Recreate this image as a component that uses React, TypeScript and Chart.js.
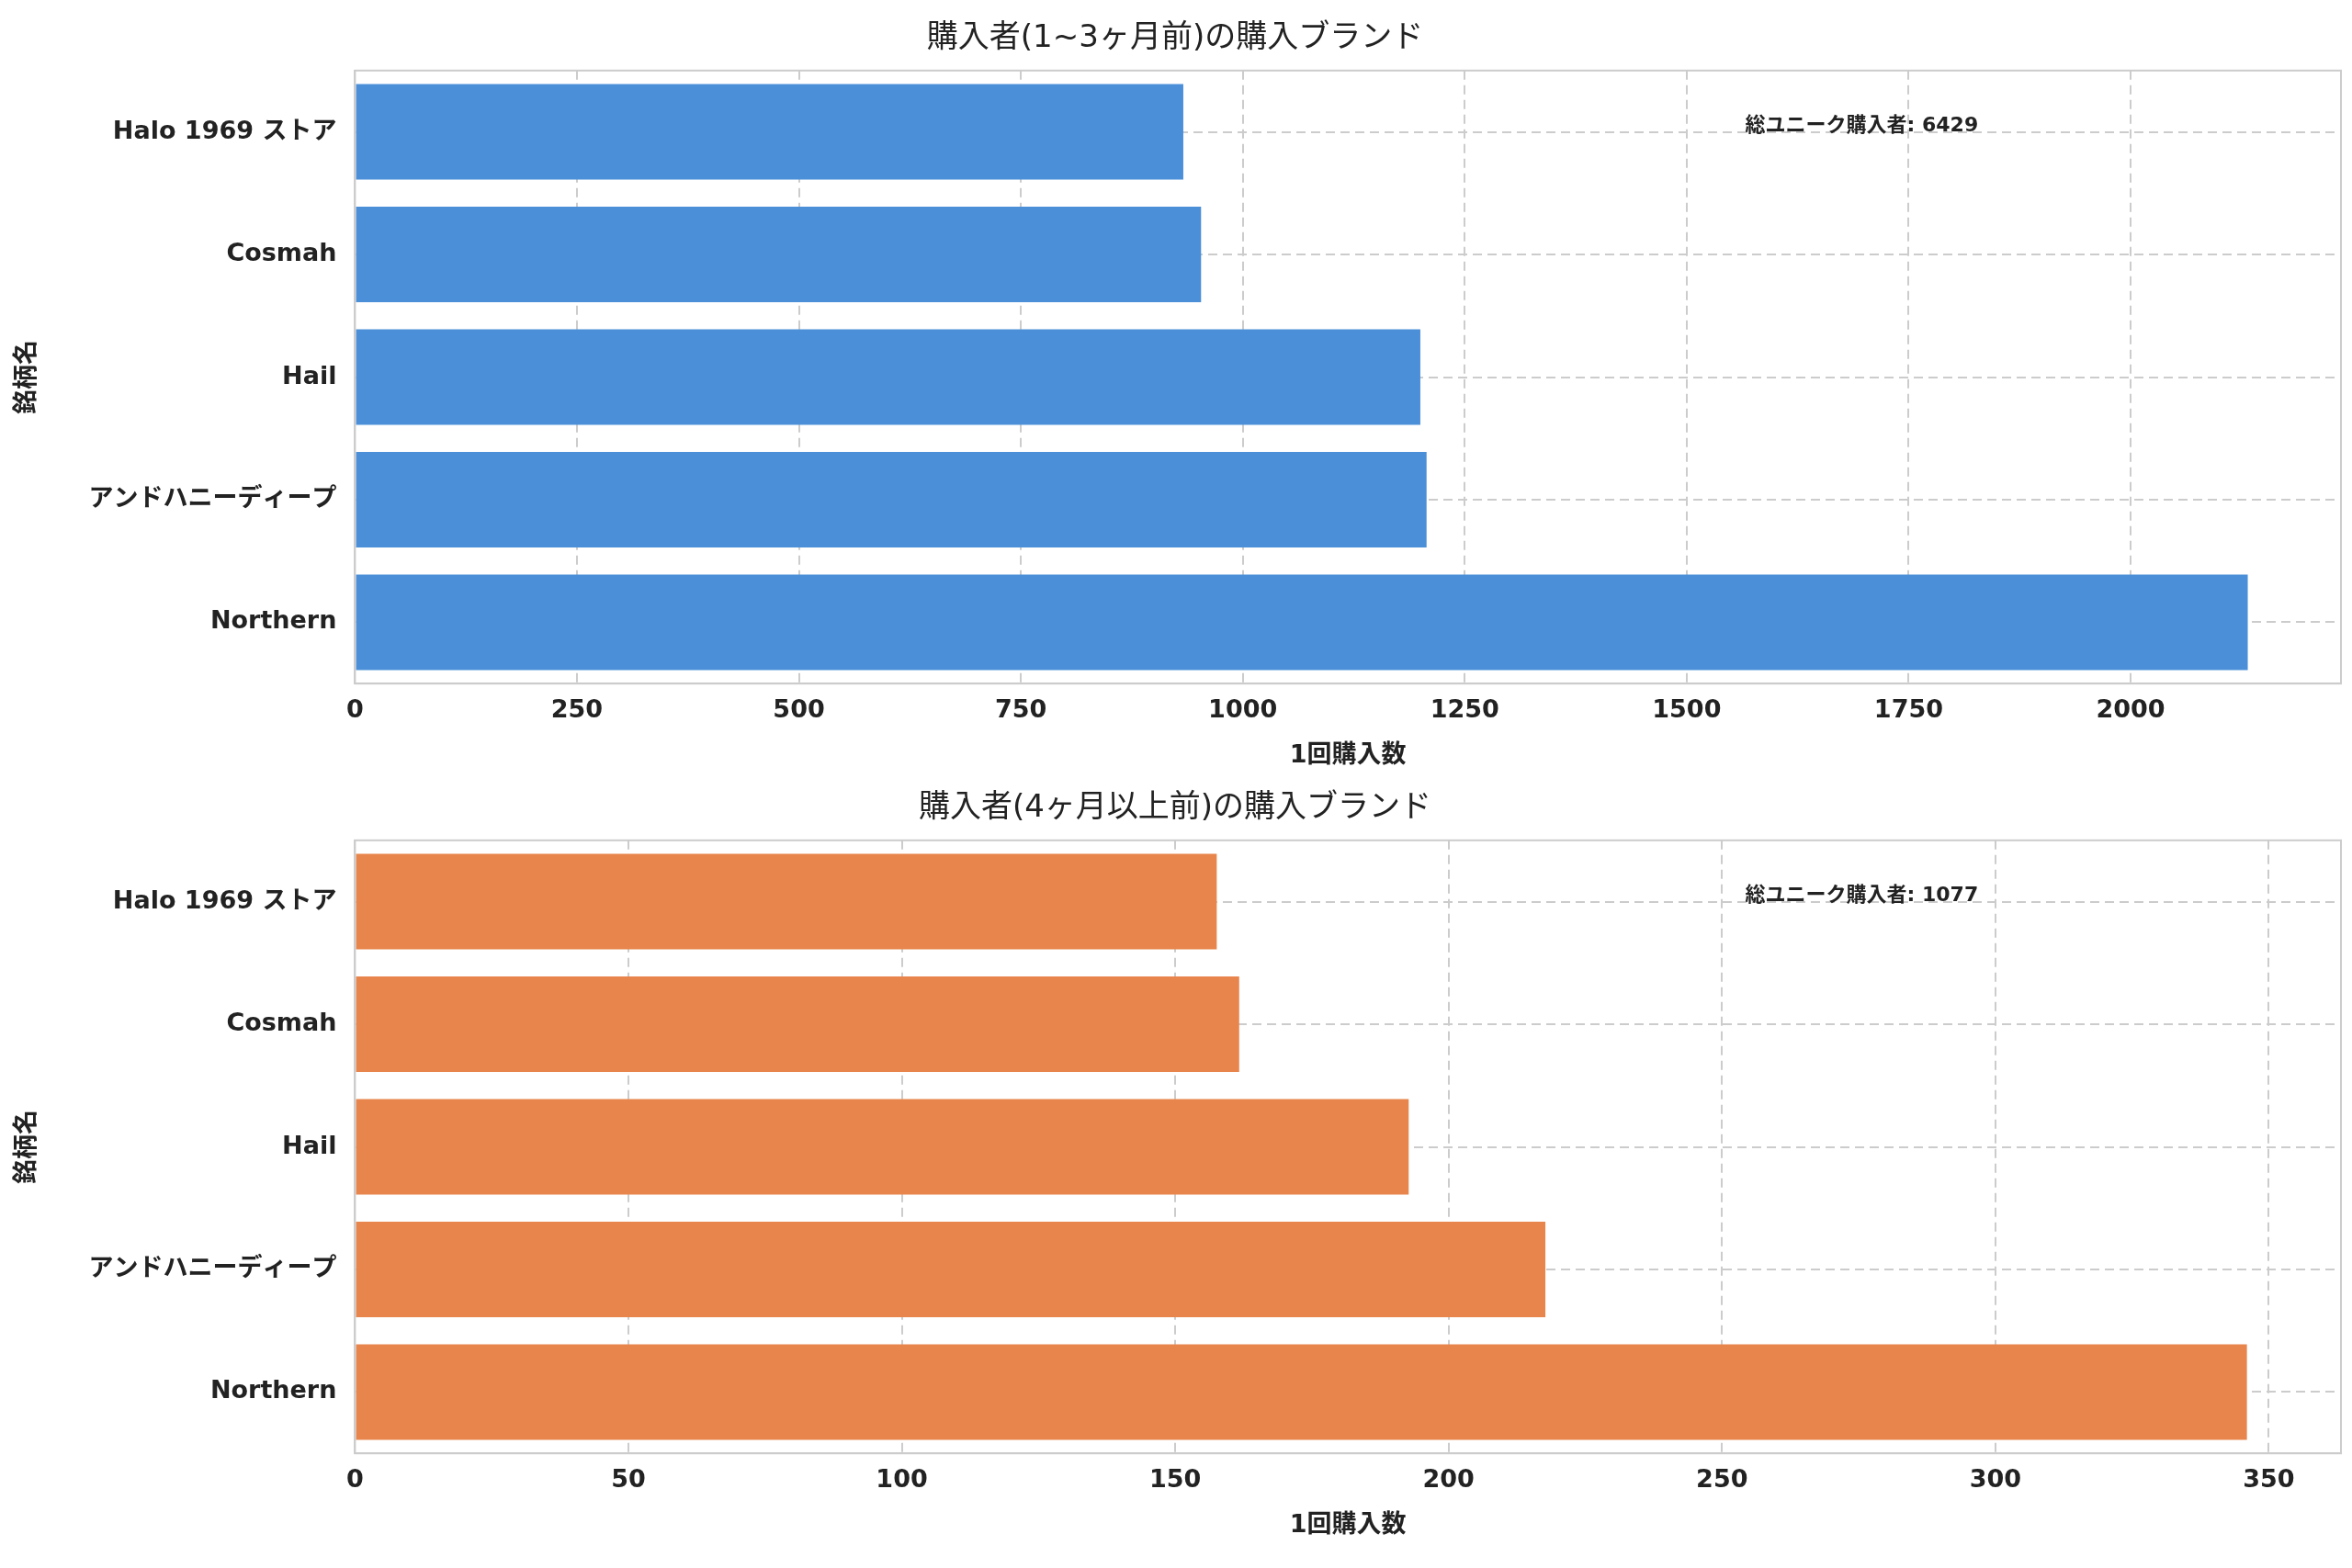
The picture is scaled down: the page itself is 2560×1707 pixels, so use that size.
import React, { useEffect, useRef } from "react";
import { Chart, registerables } from "chart.js";
Chart.register(...registerables);

const categories = ["Halo 1969 ストア", "Cosmah", "Hail", "アンドハニーディープ", "Northern"];
const recentValues = [933, 953, 1200, 1207, 2132];
const olderValues = [157.6, 161.7, 192.7, 217.7, 346];
const recentTicks = [0, 250, 500, 750, 1000, 1250, 1500, 1750, 2000];
const olderTicks = [0, 50, 100, 150, 200, 250, 300, 350];
const titles = ["購入者(1~3ヶ月前)の購入ブランド", "購入者(4ヶ月以上前)の購入ブランド"];
const totals = [6429, 1077];
const annotationLabel = "総ユニーク購入者";
const xLabel = "1回購入数";
const yLabel = "銘柄名";
const FONT = "'DejaVu Sans', 'Noto Sans CJK JP', sans-serif";

function Panel({ values, color, title, total, max, tickValues, top }: any) {
  const ref = useRef<HTMLCanvasElement>(null);
  useEffect(() => {
    const annot = {
      id: "annot",
      afterDraw(c: any) {
        const a = c.chartArea;
        const ctx = c.ctx;
        ctx.save();
        ctx.font = `bold 22px ${FONT}`;
        ctx.fillStyle = "#222";
        ctx.textAlign = "left";
        ctx.textBaseline = "middle";
        ctx.fillText(`${annotationLabel}: ${total}`, a.left + (a.right - a.left) * 0.7, a.top + 60);
        ctx.strokeStyle = "#ccc";
        ctx.lineWidth = 2;
        ctx.strokeRect(a.left, a.top, a.right - a.left, a.bottom - a.top);
        ctx.restore();
      },
    };
    const chart = new Chart(ref.current!, {
      type: "bar",
      data: {
        labels: categories,
        datasets: [{ data: values, backgroundColor: color, barPercentage: 0.78, categoryPercentage: 1 }],
      },
      plugins: [annot],
      options: {
        indexAxis: "y",
        animation: false,
        responsive: false,
        layout: { padding: { left: 10, right: 12, top: 0, bottom: 10 } },
        plugins: {
          legend: { display: false },
          tooltip: { enabled: false },
          title: { display: true, text: title, color: "#222", font: { family: FONT, size: 34, weight: "normal" }, padding: { top: 22, bottom: 14 } },
        },
        scales: {
          x: {
            min: 0,
            max,
            afterBuildTicks: (s: any) => { s.ticks = tickValues.map((v: number) => ({ value: v })); },
            border: { color: "#ccc", width: 2, dash: [10, 6] },
            grid: { color: "#ccc", lineWidth: 2, drawTicks: false },
            ticks: {
              padding: 14,
              color: "#222",
              font: { family: FONT, size: 27, weight: "bold" },
              callback: (v: any) => String(v),
            },
            title: { display: true, text: xLabel, color: "#222", font: { family: FONT, size: 27, weight: "bold" }, padding: { top: 2 } },
          },
          y: {
            border: { color: "#ccc", width: 2, dash: [10, 6] },
            grid: { color: "#ccc", lineWidth: 2, offset: false, drawTicks: false },
            ticks: { padding: 20, color: "#222", font: { family: FONT, size: 27, weight: "bold" } },
            title: { display: true, text: yLabel, color: "#222", font: { family: FONT, size: 27, weight: "bold" }, padding: { bottom: 30 } },
          },
        },
      } as any,
    });
    return () => chart.destroy();
  }, []);
  return <canvas ref={ref} width={2560} height={853} style={{ position: "absolute", left: 0, top, width: 2560, height: 853 }} />;
}

export default function App() {
  return (
    <div style={{ position: "absolute", left: 0, top: 0, width: 2560, height: 1707, background: "#fff" }}>
      <Panel values={recentValues} color="#4a8fd8" title={titles[0]} total={totals[0]} max={2237} tickValues={recentTicks} top={0} />
      <Panel values={olderValues} color="#e8854c" title={titles[1]} total={totals[1]} max={363.2} tickValues={olderTicks} top={838} />
    </div>
  );
}
